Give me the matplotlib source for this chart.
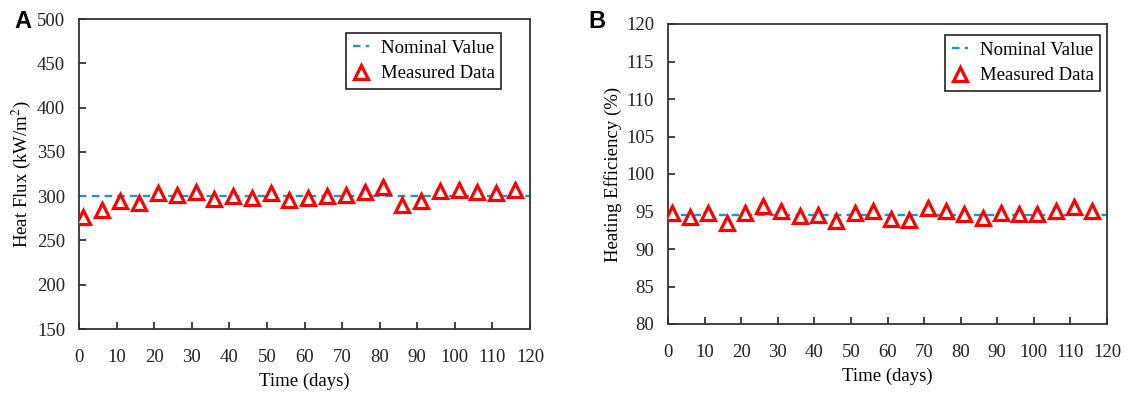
import matplotlib.pyplot as plt
import numpy as np

plt.rcParams["font.family"] = ["Liberation Serif", "DejaVu Serif"]
plt.rcParams["mathtext.fontset"] = "stix"

days = np.arange(1, 120, 5)

heat_flux = [276, 284, 294, 292, 303, 301.5, 304.5, 297, 300, 298, 303.5, 296,
             298, 300, 301.5, 305, 310, 289.5, 295, 306, 307, 305, 303, 307]
heat_flux_nominal = 300

efficiency = [94.86, 94.28, 94.77, 93.52, 94.86, 95.75, 95.08, 94.41, 94.5, 93.74, 94.86, 95.08,
              93.96, 93.83, 95.53, 95.08, 94.63, 94.1, 94.86, 94.72, 94.63, 95.08, 95.6, 95.08]
efficiency_nominal = 94.5

x_ticks = np.arange(0, 121, 10)

W, H = 1129, 394
fig = plt.figure(figsize=(W / 100, H / 100), dpi=100)


def px_axes(left, top, right, bottom):
    return fig.add_axes([left / W, 1 - bottom / H, (right - left) / W, (bottom - top) / H])


def draw_panel(ax, values, nominal, ylim, yticks, ylabel, legend_box):
    ax.plot([0, 120], [nominal, nominal], ls=(0, (3.2, 2.2)), color="#1a96d8", lw=1.7,
            label="Nominal Value", zorder=2)
    ax.plot(days, values, ls="none", marker="^", ms=9.5, mfc="white", mec="#ff0000",
            mew=2.3, label="Measured Data", zorder=3)
    ax.set_xlim(0, 120)
    ax.set_ylim(*ylim)
    ax.set_xticks(x_ticks)
    ax.set_yticks(yticks)
    ax.tick_params(direction="in", length=5, width=1.2, labelsize=13.5, colors="#222222")
    ax.tick_params(axis="x", pad=14.5)
    ax.tick_params(axis="y", pad=10)
    for s in ax.spines.values():
        s.set_linewidth(1.3)
        s.set_color("#333333")
    ax.set_xlabel("Time (days)", fontsize=13.5, labelpad=5)
    ax.set_ylabel(ylabel, fontsize=13.5, labelpad=3)
    leg = ax.legend(loc="upper left", bbox_to_anchor=legend_box, fontsize=13.5,
                    handlelength=0.9, handletextpad=0.6, borderpad=0.35,
                    borderaxespad=0, labelspacing=0.45, fancybox=False, framealpha=1)
    leg.get_frame().set_edgecolor("#222222")
    leg.get_frame().set_linewidth(1.2)


ax1 = px_axes(79, 19, 530, 329)
draw_panel(ax1, heat_flux, heat_flux_nominal, (150, 500), np.arange(150, 501, 50),
           "Heat Flux (kW/m$^2$)", ((346 - 79) / 451, 1 - (33 - 19) / 310))

ax2 = px_axes(668, 24, 1107, 324)
draw_panel(ax2, efficiency, efficiency_nominal, (80, 120), np.arange(80, 121, 5),
           "Heating Efficiency (%)", ((945 - 668) / 439, 1 - (35 - 24) / 300))

fig.text(23 / W, 1 - 21 / H, "A", family="Liberation Sans", weight="bold", fontsize=17,
         ha="center", va="center")
fig.text(597 / W, 1 - 22 / H, "B", family="Liberation Sans", weight="bold", fontsize=17,
         ha="center", va="center")

fig.savefig("out.png", dpi=100)
